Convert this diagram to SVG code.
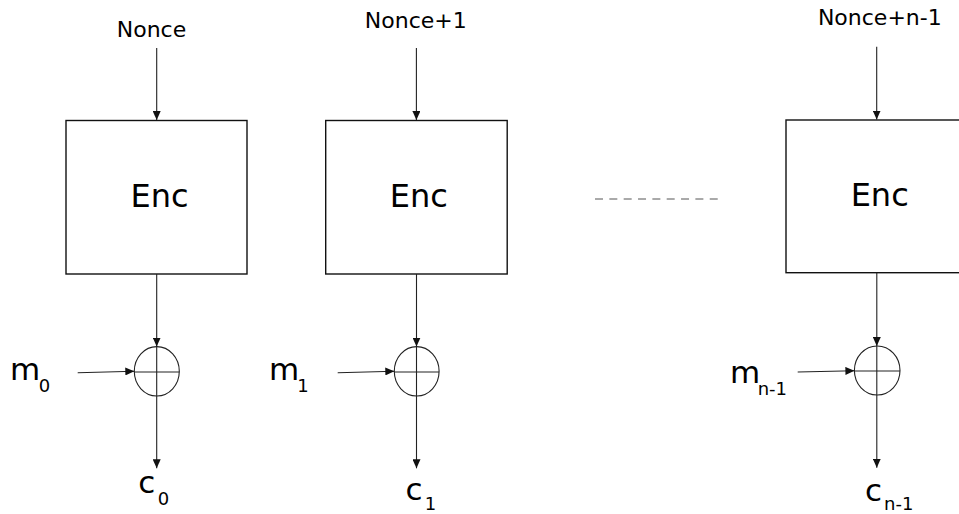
<svg xmlns="http://www.w3.org/2000/svg" width="959" height="514" viewBox="0 0 959 514">
  <defs>
    <marker id="arr" markerUnits="userSpaceOnUse" markerWidth="10" markerHeight="8" refX="9" refY="4" orient="auto">
      <path d="M0,0 L9,4 L0,8 Z" fill="#111"/>
    </marker>
    <style>
      text { font-family: "DejaVu Sans", "Liberation Sans", sans-serif; fill: #000; }
      .lbl { font-size: 22px; text-anchor: middle; }
      .enc { font-size: 32px; text-anchor: middle; }
      .var { font-size: 31px; }
      .sub { font-size: 18px; }
      .box { fill: #fff; stroke: #111; stroke-width: 1.4; }
      .xor { fill: none; stroke: #222; stroke-width: 1.1; }
      .conn line { stroke: #222; stroke-width: 1.1; fill: none; }
      .arrow { marker-end: url(#arr); }
      .dots { stroke: #555; stroke-width: 1; stroke-dasharray: 8 6.34; }
    </style>
  </defs>
  <rect width="959" height="514" fill="#fff"/>

  <g id="nonce0"><text class="lbl" x="151.5" y="36.5">Nonce</text></g>
  <g id="nonce1"><text class="lbl" x="415.8" y="27.5">Nonce+1</text></g>
  <g id="nonceN"><text class="lbl" x="879.8" y="25">Nonce+n-1</text></g>

  <g id="enc0"><rect class="box" x="66" y="120.5" width="181" height="153.5"/><text class="enc" x="159.5" y="206.7">Enc</text></g>
  <g id="enc1"><rect class="box" x="325.7" y="120.5" width="181.5" height="153.5"/><text class="enc" x="418.8" y="206.7">Enc</text></g>
  <g id="encN"><rect class="box" x="786" y="120" width="181" height="152.7"/><text class="enc" x="879.7" y="206">Enc</text></g>

  <g id="xor0"><ellipse class="xor" cx="156.8" cy="371.3" rx="22.5" ry="24.7"/><line class="xor" x1="134.3" y1="372" x2="179.3" y2="372"/><line class="xor" x1="156.7" y1="346.6" x2="156.7" y2="396"/></g>
  <g id="xor1"><ellipse class="xor" cx="416.7" cy="371.3" rx="22.4" ry="24.7"/><line class="xor" x1="394.3" y1="372" x2="439" y2="372"/><line class="xor" x1="416.5" y1="346.6" x2="416.5" y2="396"/></g>
  <g id="xorN"><ellipse class="xor" cx="877.2" cy="370.5" rx="22.8" ry="24.5"/><line class="xor" x1="854.4" y1="371" x2="900" y2="371"/><line class="xor" x1="876.8" y1="346" x2="876.8" y2="395"/></g>

  <g id="m0"><text class="var" x="10" y="380">m<tspan class="sub" dx="-1.5" dy="12">0</tspan></text></g>
  <g id="m1"><text class="var" x="269" y="380">m<tspan class="sub" dx="-2" dy="12">1</tspan></text></g>
  <g id="mN"><text class="var" x="730" y="382.7">m<tspan class="sub" dx="-2.5" dy="12.3">n-1</tspan></text></g>

  <g id="c0"><text class="var" x="138.3" y="493.3">c<tspan class="sub" dx="2.5" dy="12">0</tspan></text></g>
  <g id="c1"><text class="var" x="405.6" y="500">c<tspan class="sub" dx="2" dy="10">1</tspan></text></g>
  <g id="cN"><text class="var" x="865" y="500.5">c<tspan class="sub" dx="2" dy="9.5">n-1</tspan></text></g>

  <g id="dots"><line class="dots" x1="595" y1="199" x2="718" y2="199"/></g>

  <g id="connectors" class="conn">
    <line class="arrow" x1="156.7" y1="48" x2="156.7" y2="120"/>
    <line class="arrow" x1="416.4" y1="48" x2="416.4" y2="120"/>
    <line class="arrow" x1="876.7" y1="46.7" x2="876.7" y2="119.5"/>

    <line class="arrow" x1="156.7" y1="274" x2="156.7" y2="346.6"/>
    <line class="arrow" x1="416.5" y1="274" x2="416.5" y2="346.6"/>
    <line class="arrow" x1="876.8" y1="272.7" x2="876.8" y2="346"/>

    <line class="arrow" x1="77.7" y1="372.7" x2="134.3" y2="371.2"/>
    <line class="arrow" x1="337.7" y1="372.7" x2="394.3" y2="371.2"/>
    <line class="arrow" x1="797.7" y1="372" x2="854.4" y2="370.7"/>

    <line class="arrow" x1="156.7" y1="396" x2="156.7" y2="468.3"/>
    <line class="arrow" x1="416.5" y1="396" x2="416.5" y2="468.3"/>
    <line class="arrow" x1="876.8" y1="395" x2="876.8" y2="467.7"/>
  </g>
</svg>
